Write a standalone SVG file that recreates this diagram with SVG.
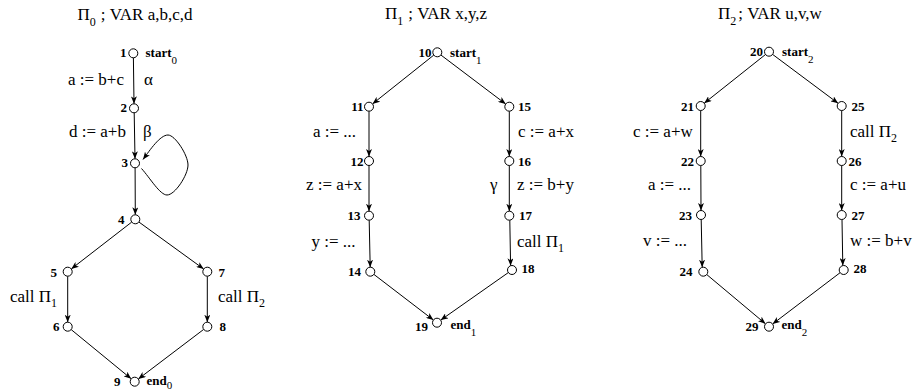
<svg xmlns="http://www.w3.org/2000/svg" width="915" height="392" viewBox="0 0 915 392">
<style>
text{font-family:"Liberation Serif","Times New Roman",serif;fill:#000}
.t{font-size:17px}
.lb{font-size:17px}
.n{font-size:13px;font-weight:bold}
.s{font-size:11px;font-weight:normal}
.sb{font-size:12px}
circle{fill:#fff;stroke:#000;stroke-width:1}
.e{fill:none;stroke:#000;stroke-width:1;marker-end:url(#ah)}
</style>
<defs>
<marker id="ah" markerWidth="8" markerHeight="6" refX="7.5" refY="3" orient="auto" markerUnits="userSpaceOnUse">
<path d="M0,0 L7.5,3 L0,6 L2,3 z" fill="#000"/>
</marker>
</defs>
<rect width="915" height="392" fill="#fff"/>

<g id="titles">
<text class="t" x="77.5" y="20">Π<tspan class="sb" dy="6">0</tspan><tspan dx="5" dy="-6">; VAR a,b,c,d</tspan></text>
<text class="t" x="385" y="19">Π<tspan class="sb" dy="6">1</tspan><tspan dx="5" dy="-6">; VAR x,y,z</tspan></text>
<text class="t" x="718" y="19">Π<tspan class="sb" dy="6">2</tspan><tspan dx="2" dy="-6">; VAR u,v,w</tspan></text>
</g>

<g id="connectors">
<!-- graph 0 -->
<line class="e" x1="133.4" y1="57.8" x2="134" y2="103.8"/>
<line class="e" x1="134.2" y1="112.8" x2="135" y2="158.8"/>
<line class="e" x1="135.1" y1="167.8" x2="135.3" y2="214.8"/>
<path class="e" d="M141.5,168.5 C150,178 160,195 167,195 C175,195 188,175 188,165 C188,155 175,135 168,135 C160,135 150,150 143,159.5"/>
<line class="e" x1="131.7" y1="222.1" x2="71.3" y2="268.9"/>
<line class="e" x1="138.9" y1="222" x2="203.7" y2="269"/>
<line class="e" x1="67.7" y1="276.2" x2="67.7" y2="322.2"/>
<line class="e" x1="207.3" y1="276.2" x2="207.3" y2="322.2"/>
<line class="e" x1="71.2" y1="329.6" x2="131.2" y2="378.8"/>
<line class="e" x1="203.7" y1="329.4" x2="138.3" y2="379"/>
<!-- graph 1 -->
<line class="e" x1="433.8" y1="55.1" x2="372.5" y2="103.9"/>
<line class="e" x1="440.9" y1="55" x2="505.7" y2="104"/>
<line class="e" x1="369" y1="111.2" x2="369" y2="156.5"/>
<line class="e" x1="369" y1="165.5" x2="369" y2="211.2"/>
<line class="e" x1="369.2" y1="220.2" x2="370.2" y2="267.2"/>
<line class="e" x1="509.3" y1="111.2" x2="509.3" y2="156.5"/>
<line class="e" x1="509.3" y1="165.5" x2="509.3" y2="211.2"/>
<line class="e" x1="509.8" y1="220.2" x2="510.6" y2="265.8"/>
<line class="e" x1="373.9" y1="274.4" x2="433.4" y2="320"/>
<line class="e" x1="508.3" y1="272.6" x2="440.7" y2="320.1"/>
<!-- graph 2 -->
<line class="e" x1="765.5" y1="54.5" x2="704.2" y2="103.2"/>
<line class="e" x1="772.6" y1="54.4" x2="838.1" y2="103.3"/>
<line class="e" x1="700.7" y1="110.5" x2="700.7" y2="156.5"/>
<line class="e" x1="700.8" y1="165.5" x2="701" y2="210.5"/>
<line class="e" x1="701.2" y1="219.5" x2="702.2" y2="267.2"/>
<line class="e" x1="841.7" y1="110.5" x2="841.7" y2="156.5"/>
<line class="e" x1="841.7" y1="165.5" x2="841.7" y2="210.5"/>
<line class="e" x1="842" y1="219.5" x2="842.8" y2="265.6"/>
<line class="e" x1="706.8" y1="274.6" x2="765.5" y2="323.8"/>
<line class="e" x1="840.1" y1="272.7" x2="772.6" y2="324"/>
</g>

<g id="edge-labels">
<text class="lb" x="68" y="85">a := b+c</text>
<text class="lb" x="144" y="85">α</text>
<text class="lb" x="69" y="137">d := a+b</text>
<text class="lb" x="143" y="137">β</text>
<text class="lb" x="10" y="302">call Π<tspan class="sb" dy="5">1</tspan></text>
<text class="lb" x="218" y="302">call Π<tspan class="sb" dy="5">2</tspan></text>

<text class="lb" x="313" y="137">a := ...</text>
<text class="lb" x="518" y="137">c := a+x</text>
<text class="lb" x="306" y="190">z := a+x</text>
<text class="lb" x="490" y="190">γ</text>
<text class="lb" x="517" y="190">z := b+y</text>
<text class="lb" x="311.5" y="247">y := ...</text>
<text class="lb" x="517" y="247">call Π<tspan class="sb" dy="5">1</tspan></text>

<text class="lb" x="633" y="137">c := a+w</text>
<text class="lb" x="850" y="137">call Π<tspan class="sb" dy="5">2</tspan></text>
<text class="lb" x="648" y="190">a := ...</text>
<text class="lb" x="850" y="190">c := a+u</text>
<text class="lb" x="643" y="246">v := ...</text>
<text class="lb" x="850" y="246">w := b+v</text>
</g>

<g id="n1"><circle cx="133.3" cy="53.3" r="4.5"/><text class="n" x="126.5" y="57" text-anchor="end">1</text><text class="n" x="145.5" y="57">start<tspan class="s" dy="7">0</tspan></text></g>
<g id="n2"><circle cx="134" cy="108.3" r="4.5"/><text class="n" x="127" y="112" text-anchor="end">2</text></g>
<g id="n3"><circle cx="135" cy="163.3" r="4.5"/><text class="n" x="128" y="167" text-anchor="end">3</text></g>
<g id="n4"><circle cx="135.3" cy="219.3" r="4.5"/><text class="n" x="124.5" y="224" text-anchor="end">4</text></g>
<g id="n5"><circle cx="67.7" cy="271.7" r="4.5"/><text class="n" x="57" y="277" text-anchor="end">5</text></g>
<g id="n6"><circle cx="67.7" cy="326.7" r="4.5"/><text class="n" x="59.5" y="331" text-anchor="end">6</text></g>
<g id="n7"><circle cx="207.3" cy="271.7" r="4.5"/><text class="n" x="218.5" y="277">7</text></g>
<g id="n8"><circle cx="207.3" cy="326.7" r="4.5"/><text class="n" x="219.5" y="331">8</text></g>
<g id="n9"><circle cx="134.7" cy="381.7" r="4.5"/><text class="n" x="120.5" y="385.5" text-anchor="end">9</text><text class="n" x="146.5" y="384.5">end<tspan class="s" dy="4.5">0</tspan></text></g>

<g id="n10"><circle cx="437.3" cy="52.3" r="4.5"/><text class="n" x="431.5" y="57" text-anchor="end">10</text><text class="n" x="450" y="57">start<tspan class="s" dy="7">1</tspan></text></g>
<g id="n11"><circle cx="369" cy="106.7" r="4.5"/><text class="n" x="363.5" y="111" text-anchor="end">11</text></g>
<g id="n12"><circle cx="369" cy="161" r="4.5"/><text class="n" x="363.5" y="165.5" text-anchor="end">12</text></g>
<g id="n13"><circle cx="369" cy="215.7" r="4.5"/><text class="n" x="360.5" y="220" text-anchor="end">13</text></g>
<g id="n14"><circle cx="370.3" cy="271.7" r="4.5"/><text class="n" x="361" y="276" text-anchor="end">14</text></g>
<g id="n15"><circle cx="509.3" cy="106.7" r="4.5"/><text class="n" x="518" y="111">15</text></g>
<g id="n16"><circle cx="509.3" cy="161" r="4.5"/><text class="n" x="518" y="165.5">16</text></g>
<g id="n17"><circle cx="509.3" cy="215.7" r="4.5"/><text class="n" x="519" y="220">17</text></g>
<g id="n18"><circle cx="512" cy="270" r="4.5"/><text class="n" x="521.5" y="273">18</text></g>
<g id="n19"><circle cx="437" cy="322.7" r="4.5"/><text class="n" x="428" y="331" text-anchor="end">19</text><text class="n" x="450.5" y="329">end<tspan class="s" dy="7">1</tspan></text></g>

<g id="n20"><circle cx="769" cy="51.7" r="4.5"/><text class="n" x="763" y="56" text-anchor="end">20</text><text class="n" x="782" y="56">start<tspan class="s" dy="7">2</tspan></text></g>
<g id="n21"><circle cx="700.7" cy="106" r="4.5"/><text class="n" x="694" y="110.5" text-anchor="end">21</text></g>
<g id="n22"><circle cx="700.7" cy="161" r="4.5"/><text class="n" x="694" y="165.5" text-anchor="end">22</text></g>
<g id="n23"><circle cx="701" cy="215" r="4.5"/><text class="n" x="692" y="219.5" text-anchor="end">23</text></g>
<g id="n24"><circle cx="703.3" cy="271.7" r="4.5"/><text class="n" x="692.5" y="276" text-anchor="end">24</text></g>
<g id="n25"><circle cx="841.7" cy="106" r="4.5"/><text class="n" x="851.5" y="110.5">25</text></g>
<g id="n26"><circle cx="841.7" cy="161" r="4.5"/><text class="n" x="848.5" y="165.5">26</text></g>
<g id="n27"><circle cx="841.7" cy="215" r="4.5"/><text class="n" x="851.5" y="219.5">27</text></g>
<g id="n28"><circle cx="843.7" cy="270" r="4.5"/><text class="n" x="853.5" y="273">28</text></g>
<g id="n29"><circle cx="769" cy="326.7" r="4.5"/><text class="n" x="758.5" y="331" text-anchor="end">29</text><text class="n" x="781.5" y="329">end<tspan class="s" dy="7">2</tspan></text></g>
</svg>
